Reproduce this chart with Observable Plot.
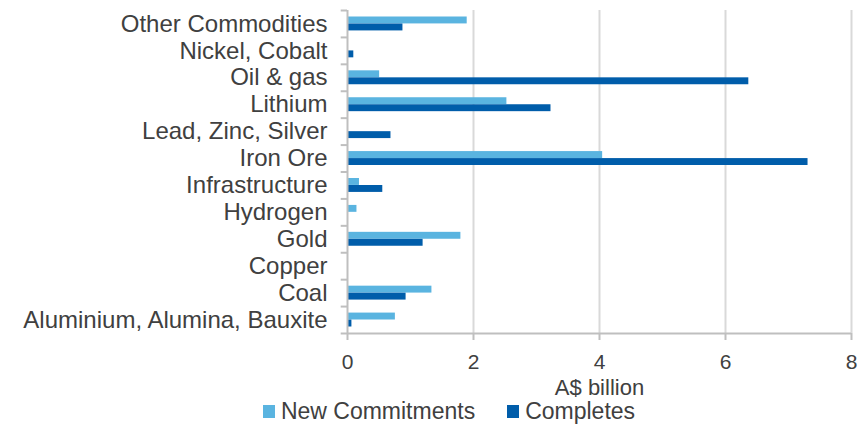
<!DOCTYPE html>
<html>
<head>
<meta charset="utf-8">
<script src="https://cdn.jsdelivr.net/npm/d3@7"></script>
<script src="https://cdn.jsdelivr.net/npm/@observablehq/plot@0.6"></script>
<style>
  html, body { margin: 0; padding: 0; background: #fff; }
  body { width: 868px; height: 425px; overflow: hidden; font-family: "Liberation Sans", Arial, sans-serif; color: #404040; }
  #chart svg { display: block; }
  #chart g[aria-label^="y-axis"] text { font-size: 24px; }
  #chart g[aria-label^="x-axis"] text { font-size: 21px; }
  #chart g[aria-label^="x-axis"] line, #chart g[aria-label^="x-axis"] path { stroke: #bfbfbf; stroke-width: 2px; stroke-opacity: 1; }
</style>
</head>
<body>
<div id="chart"></div>
<div id="legend"></div>
<script>
const categories = ["Other Commodities", "Nickel, Cobalt", "Oil & gas", "Lithium", "Lead, Zinc, Silver", "Iron Ore", "Infrastructure", "Hydrogen", "Gold", "Copper", "Coal", "Aluminium, Alumina, Bauxite"];
const newCommitments = [1.90, 0, 0.51, 2.53, 0, 4.05, 0.19, 0.15, 1.80, 0, 1.34, 0.76];
const completes = [0.88, 0.10, 6.37, 3.23, 0.69, 7.31, 0.56, 0, 1.20, 0, 0.93, 0.07];
const xTicks = [0, 2, 4, 6, 8];
const gridTicks = [2, 4, 6, 8];
const seriesNames = ["New Commitments", "Completes"];
const colors = ["#5AB4E0", "#005DAA"];
const axisTitle = "A$ billion";

const newData = categories.map((c, i) => ({category: c, value: newCommitments[i]}));
const compData = categories.map((c, i) => ({category: c, value: completes[i]}));

const H = 398, mTop = 10, mBottom = 65;
const bw = (H - mTop - mBottom) / categories.length;

const chart = Plot.plot({
  width: 868,
  height: H,
  marginLeft: 347,
  marginRight: 17,
  marginTop: mTop,
  marginBottom: mBottom,
  style: {fontFamily: "'Liberation Sans', Arial, sans-serif", color: "#404040", background: "#fff"},
  x: {domain: [0, 8], ticks: xTicks, tickSize: 7, tickPadding: 14, tickFormat: d => String(d), label: null},
  y: {domain: categories, padding: 0, round: false, tickSize: 0, tickPadding: 20, label: null},
  marks: [
    Plot.ruleX(gridTicks, {stroke: "#d9d9d9", strokeWidth: 2}),
    Plot.barX(newData, {y: "category", x: "value", fill: colors[0], insetTop: 6.5, insetBottom: 13.5}),
    Plot.barX(compData, {y: "category", x: "value", fill: colors[1], insetTop: 13.5, insetBottom: 6.5}),
    Plot.ruleX([0], {stroke: "#bfbfbf", strokeWidth: 2}),
    Plot.ruleY(categories, {y: d => d, x1: -0.1, x2: 0, dy: -bw / 2, stroke: "#bfbfbf", strokeWidth: 2}),
    Plot.ruleY([categories[categories.length - 1]], {y: d => d, x1: -0.1, x2: 8, dy: bw / 2, stroke: "#bfbfbf", strokeWidth: 2}),
    Plot.text([axisTitle], {frameAnchor: "bottom", lineAnchor: "bottom", dy: 61, fontSize: 22, fill: "#404040", text: d => d})
  ]
});
const tickLabels = new Set(xTicks.map(String));
chart.querySelectorAll("text").forEach(t => {
  if (tickLabels.has(t.textContent.trim())) t.style.fontSize = "21px";
});
document.getElementById("chart").appendChild(chart);

const legend = document.getElementById("legend");
Object.assign(legend.style, {
  height: "27px", display: "flex", justifyContent: "center", alignItems: "center",
  paddingLeft: "30px", boxSizing: "border-box", fontSize: "23px", lineHeight: "27px",
  fontFamily: "'Liberation Sans', Arial, sans-serif", color: "#404040"
});
seriesNames.forEach((name, i) => {
  const item = document.createElement("div");
  Object.assign(item.style, {display: "flex", alignItems: "center", marginLeft: i ? "32px" : "0"});
  const sw = document.createElement("span");
  Object.assign(sw.style, {display: "inline-block", width: "12px", height: "13px", marginRight: "6px", background: colors[i]});
  const label = document.createElement("span");
  label.textContent = name;
  item.appendChild(sw);
  item.appendChild(label);
  legend.appendChild(item);
});
</script>
</body>
</html>
